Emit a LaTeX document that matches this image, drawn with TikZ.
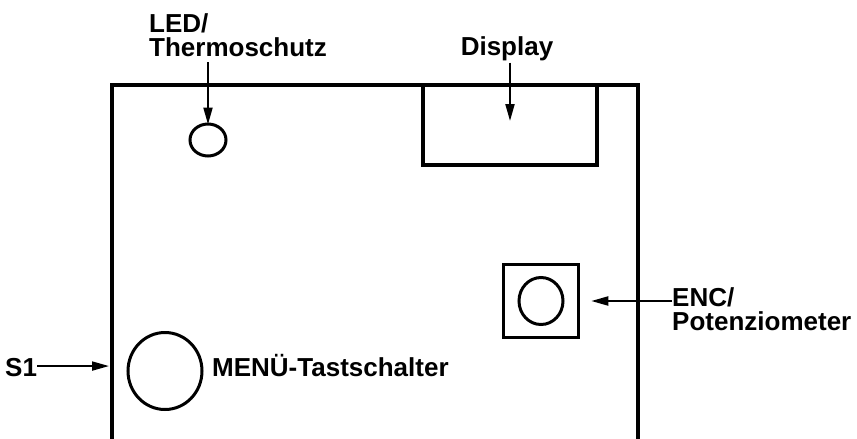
\documentclass[tikz,border=0pt]{standalone}
\usepackage{fontspec}
\setmainfont{Liberation Sans}
\usetikzlibrary{arrows.meta,shapes.geometric}
\begin{document}
\begin{tikzpicture}[x=1pt,y=1pt,
  lbl/.style={font=\fontsize{26}{24}\selectfont\bfseries, inner sep=0pt, align=left},
  frame/.style={line width=4pt},
  part/.style={draw, line width=3.5pt, inner sep=0pt},
  arr/.style={line width=2pt, -{Triangle[length=17pt,width=9pt]}}]
\useasboundingbox (0,0) rectangle (857,-439);
\begin{scope}
\clip (0,0) rectangle (857,-439);
% main board outline (bottom edge outside the picture)
\coordinate (bl) at (112,-445);
\coordinate (tl) at (112,-85);
\coordinate (tr) at (638,-85);
\coordinate (br) at (638,-445);
\draw[frame] (bl) -- (tl) -- (tr) -- (br);
\end{scope}
% display
\node[part, line width=4pt, rectangle, minimum width=174pt, minimum height=80pt] (disp) at (510,-125) {};
\node[lbl, anchor=base] (displbl) at (507,-55) {Display};
\draw[arr] ([yshift=-2pt]displbl.south -| disp) -- ([yshift=4pt]disp.center);
% LED
\node[part, line width=3pt, ellipse, minimum width=36pt, minimum height=32pt] (led) at (208,-140) {};
\node[lbl, anchor=north west] (ledlbl) at (149,-13) {LED/\\Thermoschutz};
\draw[arr] ([yshift=-6pt]ledlbl.south -| led) -- ([yshift=-2pt]led.north);
% encoder
\node[part, rectangle, minimum width=75pt, minimum height=73pt] (encbox) at (541,-301) {};
\node[part, line width=3pt, ellipse, minimum width=44pt, minimum height=47pt] (enc) at (541,-301) {};
\node[lbl, anchor=north west] (enclbl) at (672,-287) {ENC/\\Potenziometer};
\draw[arr] (enclbl.west |- encbox) -- ([xshift=11pt]encbox.east);
% menu switch
\node[part, line width=3pt, ellipse, minimum width=74pt, minimum height=77pt] (menu) at (165,-371) {};
\node[lbl, anchor=base west] (menulbl) at (212,-376) {MENÜ-Tastschalter};
\node[lbl, anchor=base west] (s1) at (5,-376) {S1};
\draw[arr] ([yshift=1pt]s1.east) -- ([xshift=-3pt,yshift=1pt]tl |- s1.east);
\end{tikzpicture}
\end{document}
